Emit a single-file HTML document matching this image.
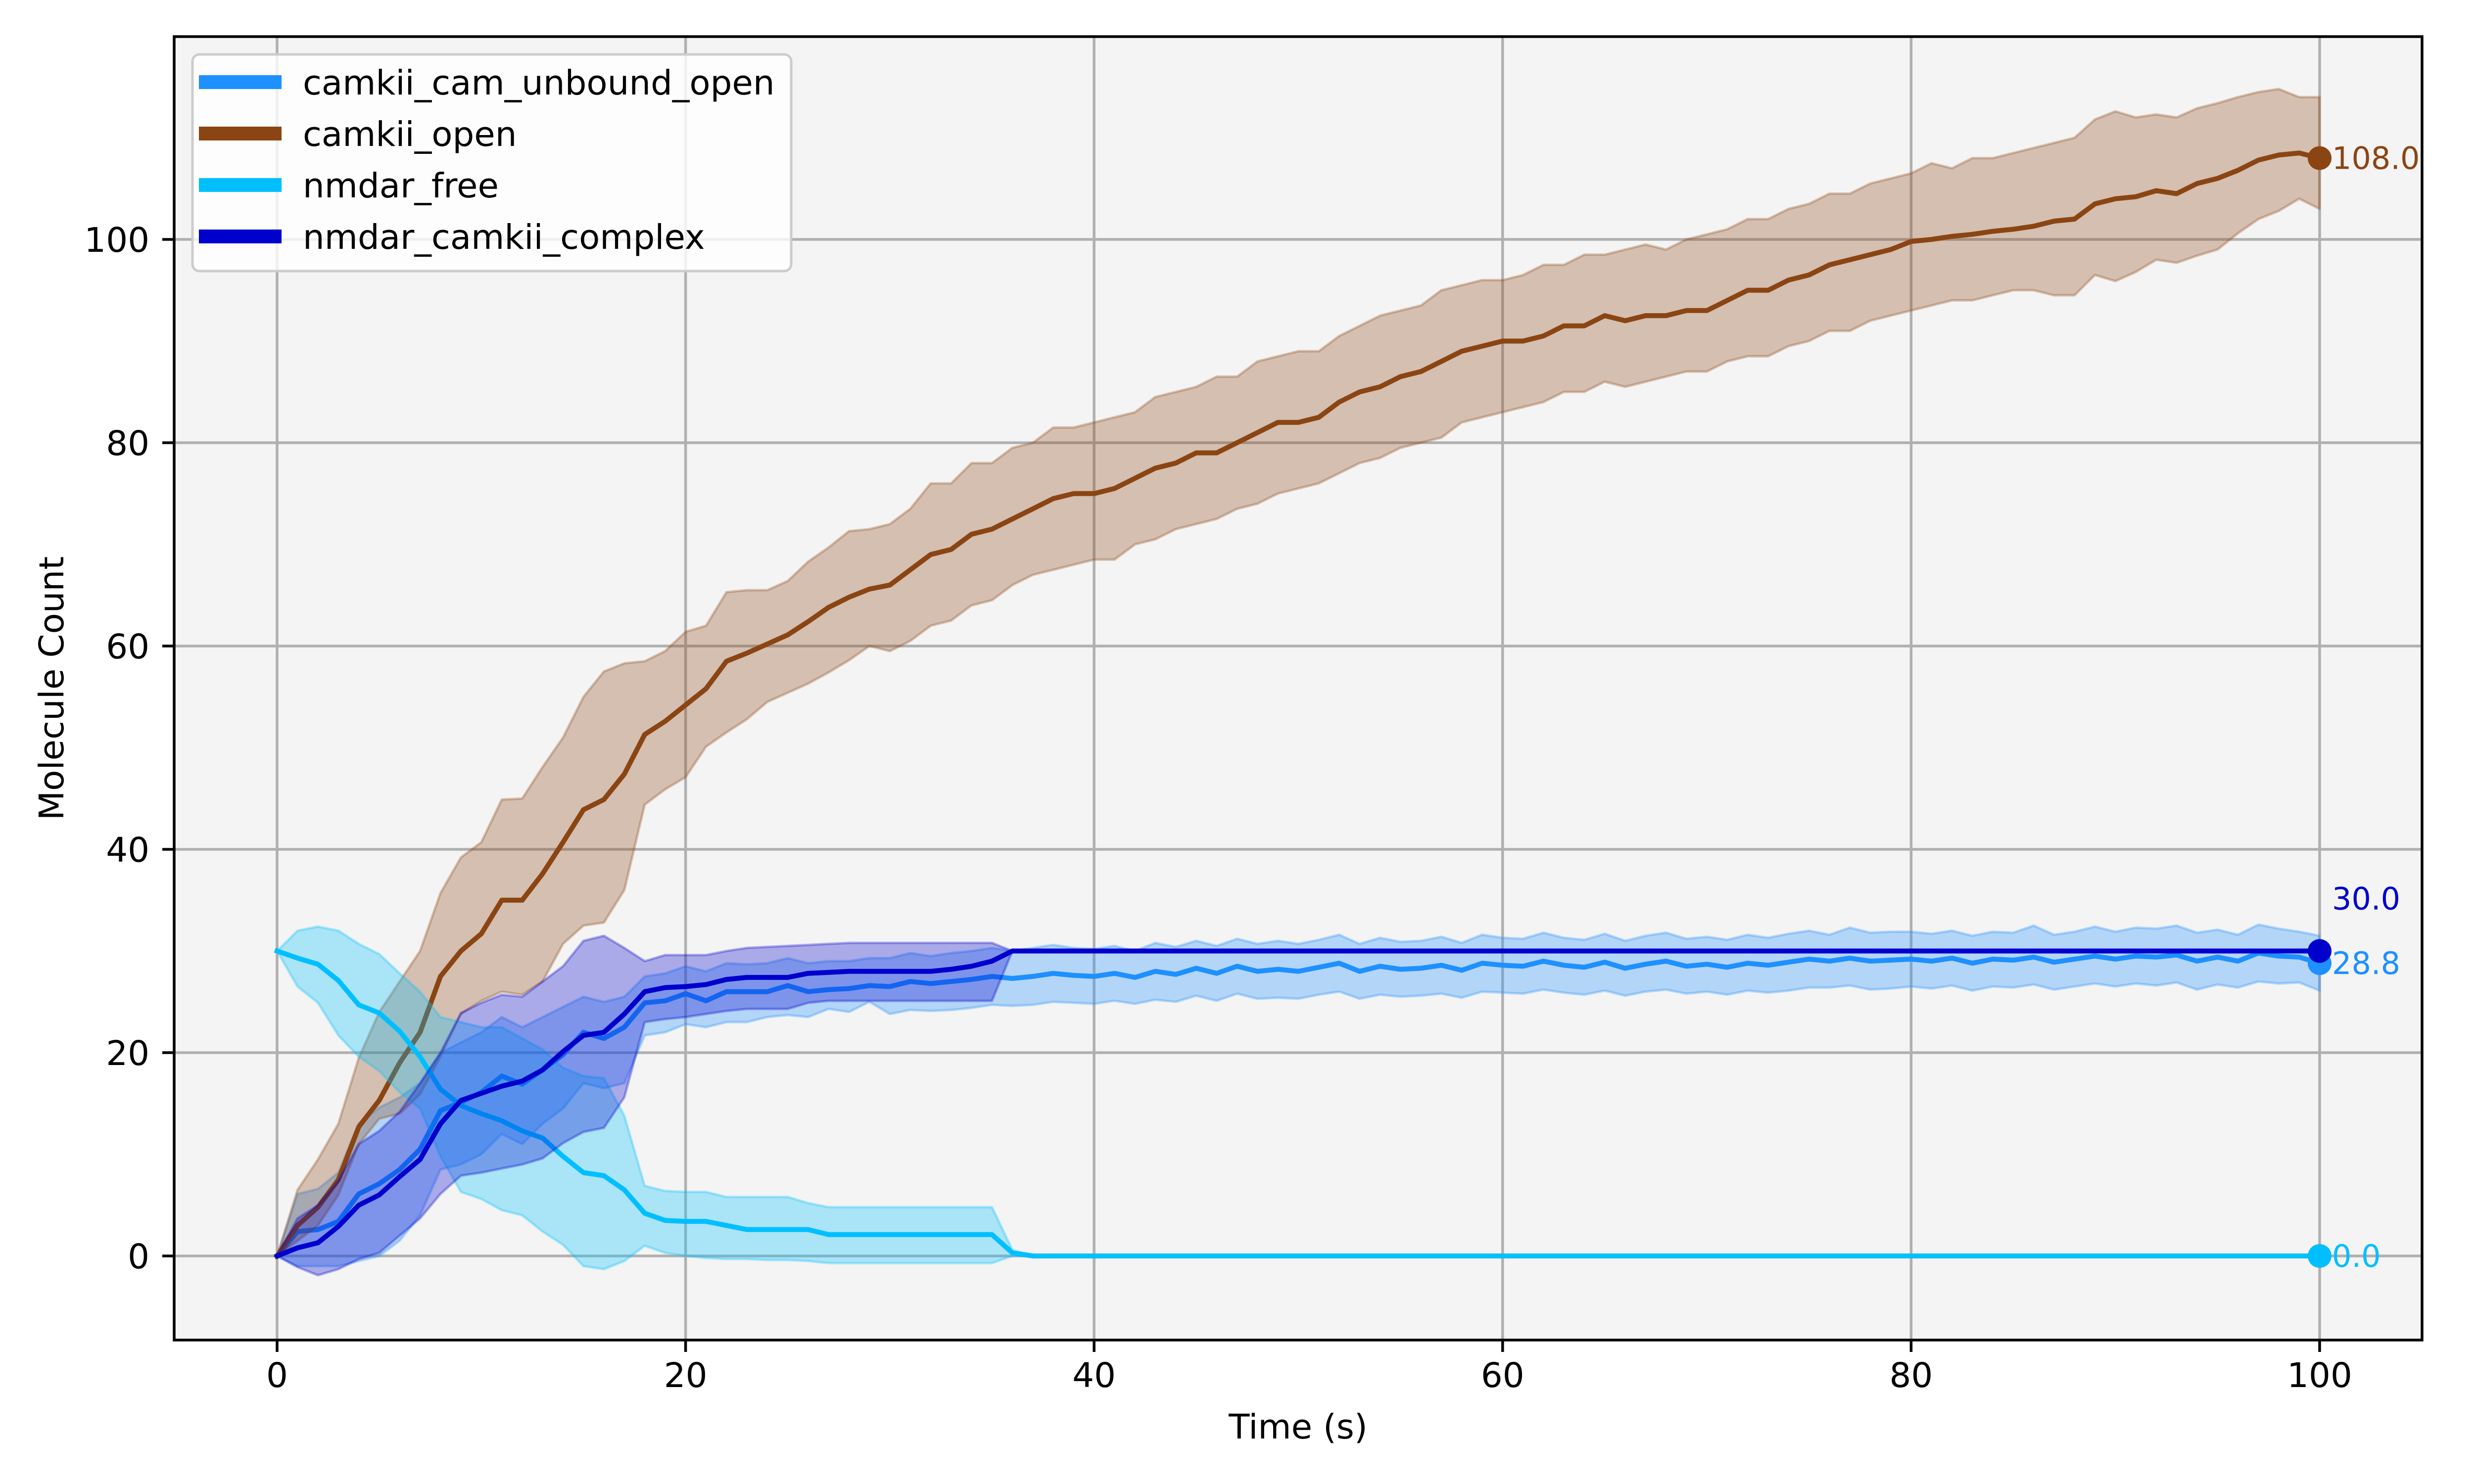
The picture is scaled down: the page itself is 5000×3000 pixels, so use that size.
<!DOCTYPE html>
<html><head><meta charset="utf-8"><style>
html,body{margin:0;padding:0;background:#fff;}
svg{display:block;font-family:"DejaVu Sans","Liberation Sans",sans-serif;}
</style></head><body>
<svg id="chart" width="5000" height="3000" viewBox="0 0 5000 3000" xmlns="http://www.w3.org/2000/svg">
<rect x="0" y="0" width="5000" height="3000" fill="#ffffff"/>
<rect x="352" y="74" width="4543" height="2635" fill="#f4f4f4"/>
<g id="grid"></g><g id="series"></g><g id="axes"></g><g id="legend"></g>
</svg>
<script>
const xTicks = [0,20,40,60,80,100];
const yTicks = [0,20,40,60,80,100];
const seriesNames = ["camkii_cam_unbound_open","camkii_open","nmdar_free","nmdar_camkii_complex"];
const seriesColors = ["#1E90FF","#8B4513","#00BFFF","#0000CD"];
const finalLabels = ["28.8","108.0","0.0","30.0"];

const openMean = [0,3,4.8,7.5,12.7,15.3,19,22,27.5,30,31.7,35,35,37.6,40.7,43.9,44.9,47.4,51.3,52.6,54.2,55.8,58.5,59.3,60.2,61.1,62.4,63.8,64.8,65.6,
66,67.5,69,69.5,71,71.5,72.5,73.5,74.5,75,75,75.5,76.5,77.5,78,79,79,80,81,82,82,82.5,84,85,85.5,86.5,87,88,89,89.5,
90,90,90.5,91.5,91.5,92.5,92,92.5,92.5,93,93,94,95,95,96,96.5,97.5,98,98.5,99,99.8,100,100.3,100.5,100.8,101,101.3,101.8,102,103.5,
104,104.2,104.8,104.5,105.5,106,106.8,107.8,108.3,108.5,108];
const openLower = [0,1.5,3,6,11,13.5,14,15.9,19.6,23.8,25.1,26,25.7,27,30.7,32.5,32.8,36,44.4,45.9,47.1,50.1,51.5,52.8,54.5,55.4,56.3,57.4,58.6,60,
59.5,60.5,62,62.5,64,64.5,66,67,67.5,68,68.5,68.5,70,70.5,71.5,72,72.5,73.5,74,75,75.5,76,77,78,78.5,79.5,80,80.5,82,82.5,
83,83.5,84,85,85,86,85.5,86,86.5,87,87,88,88.5,88.5,89.5,90,91,91,92,92.5,93,93.5,94,94,94.5,95,95,94.5,94.5,96.5,
95.9,96.8,98,97.7,98.4,99,100.6,102,102.8,104,103];
const openUpper = [0,6.5,9.5,13,19.5,24,27,30,35.7,39.2,40.7,44.9,45,48.1,51,55,57.5,58.3,58.5,59.5,61.4,62,65.3,65.5,65.5,66.4,68.3,69.7,71.3,71.5,
72,73.5,76,76,78,78,79.5,80,81.5,81.5,82,82.5,83,84.5,85,85.5,86.5,86.5,88,88.5,89,89,90.5,91.5,92.5,93,93.5,95,95.5,96,
96,96.5,97.5,97.5,98.5,98.5,99,99.5,99,100,100.5,101,102,102,103,103.5,104.5,104.5,105.5,106,106.5,107.5,107,108,108,108.5,109,109.5,110,111.8,
112.6,112,112.3,112,112.9,113.4,114,114.5,114.8,114,114];

const freeMean = [30,29.3,28.7,27.1,24.7,23.9,22.1,19.6,16.4,14.8,14,13.3,12.3,11.6,9.8,8.2,7.9,6.5,4.2,3.5,3.4,3.4,3,2.6,2.6,2.6,2.6,2.1,2.1,2.1,
2.1,2.1,2.1,2.1,2.1,2.1,0.3,0,0,0,0,0,0,0,0,0,0,0,0,0,0,0,0,0,0,0,0,0,0,0,0,0,0,0,0,0,0,0,0,0,0,0,0,0,0,0,0,0,0,0,0,0,0,0,0,0,0,0,0,0,0,0,0,0,0,0,0,0,0,0,0];
const freeLower = [30,26.5,24.9,21.7,19.6,18.2,16.1,14.5,9.8,6.3,5.6,4.5,4,2.4,1.1,-1,-1.3,-0.5,1,0.3,0,-0.2,-0.3,-0.3,-0.4,-0.4,-0.5,-0.7,-0.7,-0.7,
-0.7,-0.7,-0.7,-0.7,-0.7,-0.7,0,0,0,0,0,0,0,0,0,0,0,0,0,0,0,0,0,0,0,0,0,0,0,0,0,0,0,0,0,0,0,0,0,0,0,0,0,0,0,0,0,0,0,0,0,0,0,0,0,0,0,0,0,0,0,0,0,0,0,0,0,0,0,0,0];
const freeUpper = [30,32,32.4,32,30.7,29.7,27.8,26,23.5,23,22.5,22.5,21.4,20.3,18.5,17.7,17.5,13.8,6.9,6.4,6.3,6.3,5.8,5.8,5.8,5.8,5.2,4.8,4.8,4.8,
4.8,4.8,4.8,4.8,4.8,4.8,0.6,0,0,0,0,0,0,0,0,0,0,0,0,0,0,0,0,0,0,0,0,0,0,0,0,0,0,0,0,0,0,0,0,0,0,0,0,0,0,0,0,0,0,0,0,0,0,0,0,0,0,0,0,0,0,0,0,0,0,0,0,0,0,0,0];

const complexMean = [0,0.8,1.3,2.9,5,6,7.8,9.5,13,15.3,16,16.7,17.2,18.3,20.1,21.7,22,23.8,26,26.4,26.5,26.7,27.2,27.4,27.4,27.4,27.8,27.9,28,28,
28,28,28,28.2,28.5,29,30,30,30,30,30,30,30,30,30,30,30,30,30,30,30,30,30,30,30,30,30,30,30,30,30,30,30,30,30,30,30,30,30,30,30,30,30,30,30,30,30,30,30,30,30,30,30,30,30,30,30,30,30,30,30,30,30,30,30,30,30,30,30,30,30];
const complexLower = [0,-1.1,-1.9,-1.3,-0.3,0.3,2,3.7,6.1,7.9,8.2,8.6,9,9.6,11.1,12.2,12.6,15.6,23,23.3,23.5,23.8,24.1,24.3,24.3,24.3,24.9,25.1,25.1,25.1,
25.1,25.1,25.1,25.1,25.1,25.1,30,30,30,30,30,30,30,30,30,30,30,30,30,30,30,30,30,30,30,30,30,30,30,30,30,30,30,30,30,30,30,30,30,30,30,30,30,30,30,30,30,30,30,30,30,30,30,30,30,30,30,30,30,30,30,30,30,30,30,30,30,30,30,30,30];
const complexUpper = [0,3.7,5,7.4,11,12.3,14.2,17,20,23.9,24.9,25.7,25.5,27,28.5,31,31.5,30.3,29,29.6,29.6,29.6,30,30.3,30.4,30.5,30.6,30.7,30.8,30.8,
30.8,30.8,30.8,30.8,30.8,30.8,30,30,30,30,30,30,30,30,30,30,30,30,30,30,30,30,30,30,30,30,30,30,30,30,30,30,30,30,30,30,30,30,30,30,30,30,30,30,30,30,30,30,30,30,30,30,30,30,30,30,30,30,30,30,30,30,30,30,30,30,30,30,30,30,30];

const unboundMean = [0,2.4,2.6,3.4,6.1,7.1,8.5,10.5,14.3,15.1,16.1,17.7,16.9,18.3,19.8,22,21.4,22.5,24.9,25.1,25.8,25.1,26,26,26,26.6,26,26.2,26.3,26.6,
26.5,27,26.8,27,27.2,27.5,27.3,27.5,27.8,27.6,27.5,27.8,27.4,28,27.7,28.3,27.8,28.5,28,28.2,28,28.4,28.8,28,28.5,28.2,28.3,28.6,28.1,28.8,
28.6,28.5,29,28.6,28.4,28.9,28.3,28.7,29,28.5,28.7,28.4,28.8,28.6,28.9,29.2,29,29.3,29,29.1,29.2,29,29.3,28.8,29.2,29.1,29.4,28.9,29.2,29.5,
29.2,29.5,29.4,29.6,29,29.4,29,29.8,29.5,29.4,28.8];
const unboundLower = [0,-1,-1,-1,-0.5,0,1.5,4,8.5,9,10,12,11,13,14.5,17,16.5,17,21.7,22,22.8,22.5,23,23,23.5,23.7,23.5,24.3,24,25,
23.8,24.2,24.1,24.2,24.4,24.7,24.6,24.7,25,24.9,24.8,25.1,24.8,25.2,25,25.6,25.1,25.8,25.3,25.4,25.3,25.7,26,25.3,25.7,25.5,25.6,25.8,25.4,26,
25.9,25.8,26.2,25.9,25.7,26.1,25.6,26,26.2,25.8,26,25.7,26.1,25.9,26.1,26.4,26.4,26.6,26.2,26.3,26.5,26.3,26.6,26.1,26.5,26.4,26.7,26.2,26.5,26.8,
26.5,26.8,26.6,26.9,26.2,26.7,26.4,27,26.8,26.9,26.1];
const unboundUpper = [0,6.1,6.6,8.2,13,14.6,15.6,17,20,21,22,23.5,22.5,23.5,24.5,25.5,25,25.5,27.5,27.8,28.5,28,28.8,28.7,28.8,29.3,28.8,29,29,29.3,
29.3,29.8,29.5,29.8,30,30.3,30,30.3,30.6,30.3,30.2,30.5,30,30.8,30.4,31,30.5,31.2,30.7,31,30.7,31.1,31.6,30.7,31.3,30.9,31,31.4,30.8,31.6,
31.3,31.2,31.8,31.3,31.1,31.7,31,31.5,31.8,31.2,31.4,31.1,31.6,31.3,31.7,32,31.6,32.3,31.8,31.9,31.9,31.7,32,31.5,31.9,31.8,32.5,31.6,31.9,32.4,
31.9,32.3,32.2,32.5,31.8,32.1,31.6,32.6,32.2,31.9,31.5];

const timeStep = 1;

const NS = "http://www.w3.org/2000/svg";
const L = 352, R = 4895, T = 74, B = 2709;
const X0 = 560, XS = 41.28, Y0 = 2539, YS = 20.55;
function sx(t){ return X0 + t*XS; }
function sy(v){ return Y0 - v*YS; }
function mk(tag, attrs, parent){ const e=document.createElementNS(NS,tag); for(const k in attrs) e.setAttribute(k,attrs[k]); parent.appendChild(e); return e; }

const grid = document.getElementById('grid');
const axes = document.getElementById('axes');
const series = document.getElementById('series');
const legend = document.getElementById('legend');

xTicks.forEach(v=>{
  const g = mk('line',{x1:sx(v),x2:sx(v),y1:T,y2:B,stroke:'#b0b0b0','stroke-width':5.5},grid);
  
  
  const tk = mk('line',{x1:sx(v),x2:sx(v),y1:B,y2:B+24,stroke:'#000','stroke-width':5.5},axes);
  
  
  const tx = mk('text',{x:sx(v),y:B+95,'font-size':69,'text-anchor':'middle',fill:'#000'},axes);
  tx.textContent = v;
  
  
});
yTicks.forEach(v=>{
  const g = mk('line',{x1:L,x2:R,y1:sy(v),y2:sy(v),stroke:'#b0b0b0','stroke-width':5.5},grid);
  
  
  const tk = mk('line',{x1:L-24,x2:L,y1:sy(v),y2:sy(v),stroke:'#000','stroke-width':5.5},axes);
  
  
  const tx = mk('text',{x:302,y:sy(v)+25,'font-size':69,'text-anchor':'end',fill:'#000'},axes);
  tx.textContent = v;
  
  
});
const frame = mk('rect',{x:L,y:T,width:R-L,height:B-T,fill:'none',stroke:'#000','stroke-width':5.5},axes);


const xl = mk('text',{x:(L+R)/2,y:2908,'font-size':69,'text-anchor':'middle',fill:'#000'},axes);
xl.textContent = 'Time (s)';


const yl = mk('text',{x:0,y:0,'font-size':69,'text-anchor':'middle',fill:'#000',transform:'translate(128,'+((T+B)/2)+') rotate(-90)'},axes);
yl.textContent = 'Molecule Count';



const means = [unboundMean, openMean, freeMean, complexMean];
const lowers = [unboundLower, openLower, freeLower, complexLower];
const uppers = [unboundUpper, openUpper, freeUpper, complexUpper];
const labelOffsets = [0, 0, 0, -106];

means.forEach((m,i)=>{
  const lo = lowers[i], hi = uppers[i], c = seriesColors[i];
  let d = '';
  hi.forEach((v,j)=>{ d += (j?'L':'M') + sx(j*timeStep).toFixed(1) + ' ' + sy(v).toFixed(1); });
  for(let j=lo.length-1;j>=0;j--) d += 'L' + sx(j*timeStep).toFixed(1) + ' ' + sy(lo[j]).toFixed(1);
  d += 'Z';
  const band = mk('path',{d:d,fill:c,'fill-opacity':0.3,stroke:c,'stroke-opacity':0.3,'stroke-width':5,'stroke-linejoin':'round'},series);
  
  
  const pts = m.map((v,j)=> sx(j*timeStep).toFixed(1)+','+sy(v).toFixed(1)).join(' ');
  const line = mk('polyline',{points:pts,fill:'none',stroke:c,'stroke-width':10,'stroke-linejoin':'round','stroke-linecap':'square'},series);
  
  
});
means.forEach((m,i)=>{
  const c = seriesColors[i], n = m.length-1, v = m[n];
  const dot = mk('circle',{cx:sx(n*timeStep),cy:sy(v),r:24,fill:c},series);
  
  
  const lb = mk('text',{x:sx(n*timeStep)+25,y:sy(v)+labelOffsets[i]+22,'font-size':62,fill:c},series);
  lb.textContent = finalLabels[i];
  
  
});

const box = mk('rect',{x:389,y:110,width:1210,height:438,rx:14,fill:'#ffffff','fill-opacity':0.8,stroke:'#cccccc','stroke-width':5},legend);


seriesNames.forEach((n,i)=>{
  const cy = 166 + i*104;
  const sw = mk('rect',{x:402,y:cy-14,width:167,height:28,fill:seriesColors[i]},legend);
  
  
  const t = mk('text',{x:612,y:cy+25,'font-size':69,fill:'#000'},legend);
  t.textContent = n;
  
  
});
</script>
</body></html>
